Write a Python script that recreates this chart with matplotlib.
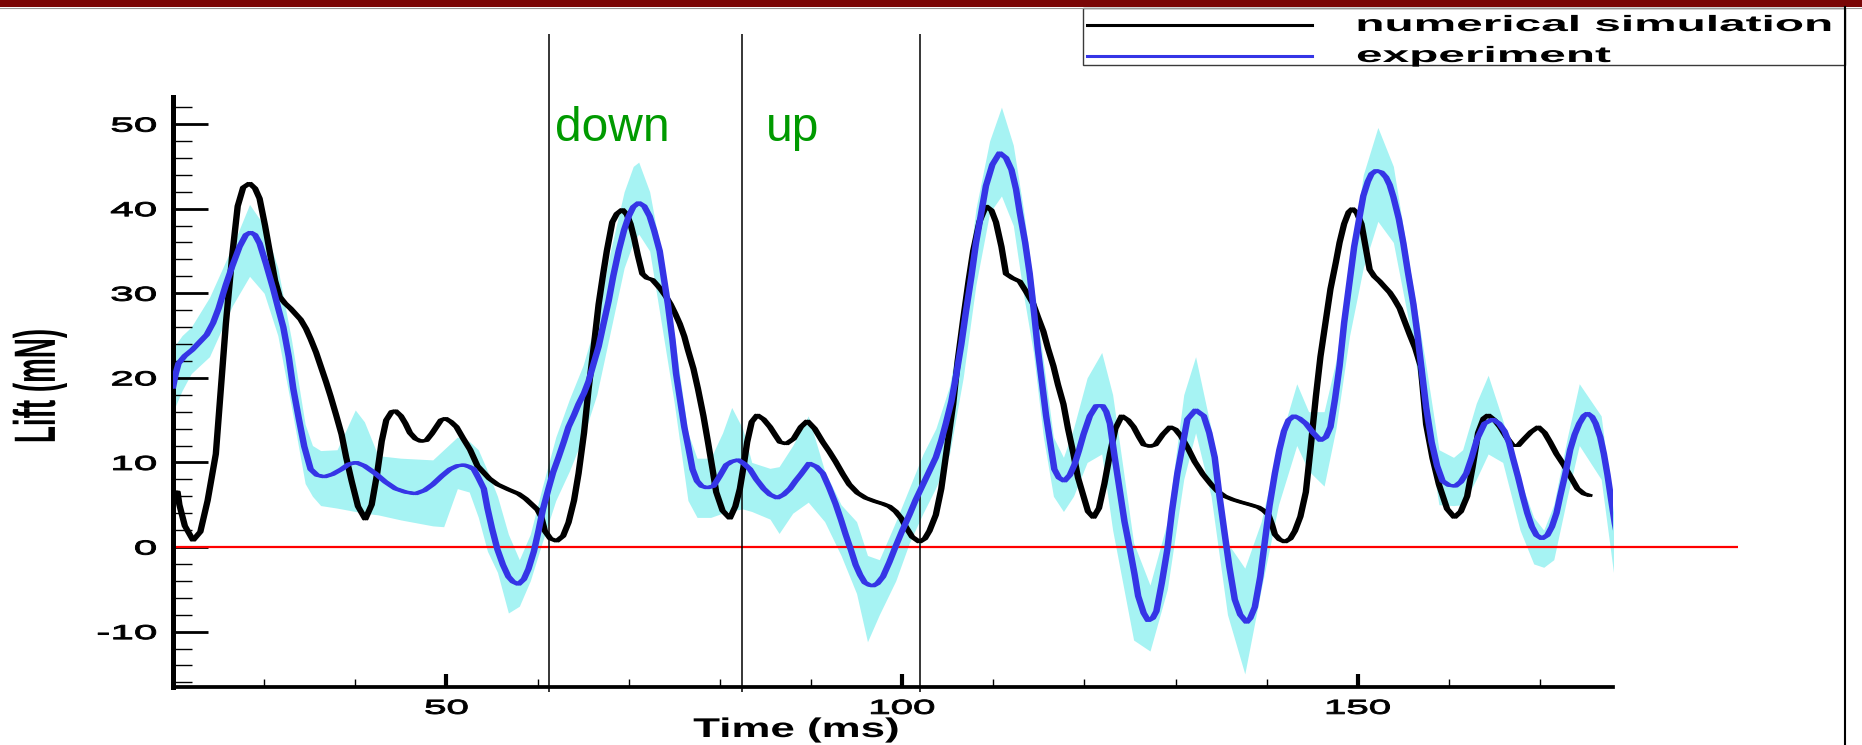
import matplotlib
matplotlib.use("Agg")
import matplotlib.pyplot as plt
from matplotlib.patheffects import AbstractPathEffect, SimpleLineShadow, Normal
from matplotlib.transforms import Affine2D
from matplotlib.lines import Line2D
from matplotlib.patches import Rectangle
from matplotlib.ticker import MultipleLocator

# ---------------------------------------------------------------- data
# numerical simulation: time (ms) and lift (mN)
sim_t = [20.0, 20.5, 20.7, 21.3, 22.2, 23.0, 23.8, 24.7, 25.8, 26.5, 27.1, 27.7, 28.4, 29.0,
         29.5, 30.1, 30.6, 31.2, 31.7, 32.3, 32.9, 33.5, 34.0, 34.6, 35.1, 35.7, 36.2, 36.8,
         37.3, 37.9, 38.5, 39.0, 39.6, 40.3, 41.1, 41.8, 42.4, 42.9, 43.4, 44.0, 44.4, 45.0,
         45.5, 46.0, 46.6, 47.2, 47.8, 48.4, 48.9, 49.4, 49.9, 50.5, 51.1, 51.8, 52.6, 53.4,
         54.7, 55.6, 56.8, 57.9, 58.7, 59.3, 60.0, 60.4, 60.8, 61.4, 62.1, 62.8, 63.4, 64.0,
         64.5, 65.1, 65.6, 66.2, 66.7, 67.2, 67.6, 68.2, 68.7, 69.3, 69.8, 70.2, 70.6, 71.0,
         71.5, 72.0, 72.6, 73.1, 73.5, 74.1, 74.6, 75.1, 75.6, 76.1, 76.5, 77.1, 77.6, 78.2,
         78.7, 79.2, 79.6, 80.3, 81.1, 81.7, 82.2, 82.6, 83.0, 83.5, 84.1, 84.8, 85.5, 86.1,
         86.6, 87.3, 88.1, 88.9, 89.6, 90.4, 91.3, 92.0, 92.7, 93.5, 94.2, 95.1, 96.0, 97.0,
         97.9, 98.6, 99.3, 99.9, 100.4, 101.1, 101.9, 102.5, 103.0, 103.7, 104.3, 104.9, 105.6,
         106.1, 106.7, 107.3, 107.8, 108.5, 109.2, 109.8, 110.3, 110.9, 111.4, 112.1, 112.9,
         113.6, 114.4, 114.9, 115.5, 116.0, 116.6, 117.1, 117.7, 118.2, 118.8, 119.3, 119.9,
         120.4, 121.0, 121.6, 122.2, 122.8, 123.4, 124.1, 124.8, 125.4, 126.0, 126.5, 127.2,
         127.8, 128.6, 129.4, 130.0, 130.6, 131.4, 132.1, 133.0, 133.9, 134.6, 135.4, 136.3,
         137.2, 138.2, 139.1, 139.7, 140.2, 140.6, 140.9, 141.4, 142.0, 142.6, 143.1, 143.7,
         144.3, 144.8, 145.4, 145.9, 146.5, 147.0, 147.6, 148.0, 148.5, 149.0, 149.4, 149.9,
         150.4, 150.8, 151.3, 151.8, 152.4, 152.9, 153.5, 154.0, 154.6, 155.1, 155.7, 156.3,
         156.9, 157.5, 158.2, 158.9, 159.8, 160.6, 161.3, 162.0, 162.6, 163.2, 163.8, 164.3,
         165.0, 165.6, 166.3, 167.0, 167.6, 168.1, 169.0, 169.8, 170.5, 171.1, 171.8, 172.6,
         173.4, 174.1, 174.8, 175.4]
sim_lift = [6.5, 6.5, 5.0, 2.5, 0.8, 1.8, 5.5, 11.0, 26.4, 34.5, 40.3, 42.5, 43.0, 42.4,
            41.2, 38.0, 35.0, 31.5, 29.6, 28.8, 28.2, 27.5, 26.9, 25.8, 24.6, 23.0, 21.4, 19.5,
            17.8, 15.6, 13.3, 10.6, 7.8, 4.8, 3.3, 5.0, 8.7, 12.5, 15.0, 16.0, 16.1, 15.5,
            14.6, 13.5, 12.8, 12.5, 12.6, 13.4, 14.2, 15.0, 15.2, 14.8, 14.2, 12.9, 11.5, 9.6,
            8.1, 7.4, 6.8, 6.3, 5.7, 5.1, 4.4, 3.6, 1.9, 1.0, 0.7, 1.3, 2.9, 5.5,
            8.7, 13.5, 18.7, 24.0, 28.7, 32.3, 35.0, 38.4, 39.4, 39.9, 39.3, 38.2, 36.5, 34.5,
            32.3, 31.8, 31.6, 31.0, 30.5, 29.6, 28.7, 27.6, 26.4, 24.9, 23.3, 21.1, 18.7, 15.5,
            12.4, 9.2, 6.5, 4.3, 3.4, 4.8, 6.9, 9.5, 12.4, 14.8, 15.6, 15.1, 14.2, 13.2,
            12.4, 12.2, 12.8, 14.2, 14.9, 14.0, 12.4, 11.3, 10.1, 8.6, 7.4, 6.4, 5.8, 5.4,
            5.1, 4.8, 4.2, 3.4, 2.4, 1.2, 0.6, 1.0, 1.9, 3.8, 6.9, 11.5, 16.9,
            22.0, 26.9, 31.5, 35.0, 38.5, 40.3, 39.8, 38.4, 35.5, 32.3, 31.8, 31.4,
            30.2, 28.7, 27.2, 25.5, 23.5, 21.4, 19.2, 16.9, 14.0, 11.0, 8.2, 6.0,
            4.2, 3.5, 4.6, 7.5, 11.0, 14.0, 15.5, 15.0, 14.2, 13.0, 12.1, 11.9,
            12.1, 13.3, 14.2, 13.9, 13.1, 11.6, 10.1, 8.6, 7.4, 6.6, 6.0, 5.6,
            5.3, 5.0, 4.7, 4.3, 3.8, 2.6, 1.5, 0.9, 0.6, 1.0, 1.9, 3.6,
            6.5, 11.5, 17.8, 22.5, 26.9, 30.5, 33.7, 36.0, 38.2, 39.6, 40.0, 39.5,
            38.2, 35.8, 32.8, 32.0, 31.4, 30.8, 30.1, 29.3, 28.2, 26.8, 25.1, 23.5,
            21.4, 14.5, 10.5, 7.4, 4.5, 3.5, 4.2, 6.0, 9.5, 13.5, 15.2, 15.6,
            15.0, 14.2, 13.0, 12.0, 12.0, 12.6, 13.6, 14.2, 13.5, 12.4, 11.0, 9.7,
            8.2, 6.9, 6.3, 6.1]

# experiment: mean lift (mN)
exp_t = [20.0, 20.3, 20.6, 21.3, 22.1, 22.9, 23.7, 24.4, 25.0, 25.8, 26.5, 27.3, 28.0, 28.5,
         29.0, 29.5, 30.2, 31.0, 31.6, 32.1, 32.7, 33.2, 33.8, 34.4, 35.1, 35.8, 36.6, 37.5,
         38.5, 39.3, 40.1, 41.0, 42.2, 43.3, 44.4, 45.5, 46.6, 47.6, 48.5, 49.5, 50.4, 51.2,
         51.9, 52.5, 53.0, 53.5, 54.1, 54.5, 55.0, 55.6, 56.2, 56.8, 57.3, 57.9, 58.5, 59.0,
         59.6, 60.1, 60.6, 61.2, 61.7, 62.3, 62.9, 63.4, 64.0, 64.5, 65.1, 65.6, 66.1, 66.7,
         67.2, 67.8, 68.3, 68.9, 69.5, 70.0, 70.5, 71.1, 71.7, 72.3, 72.8, 73.4, 73.9, 74.3,
         74.8, 75.2, 75.7, 76.1, 76.6, 77.0, 77.5, 78.0, 78.6, 79.3, 80.0, 80.7, 81.3, 82.0,
         82.6, 83.3, 84.0, 84.8, 85.5, 86.3, 87.0, 87.7, 88.3, 88.9, 89.8, 90.6, 91.3, 92.0,
         92.7, 93.3, 93.8, 94.4, 94.9, 95.4, 95.9, 96.4, 96.8, 97.3, 97.9, 98.6, 99.3, 100.0,
         100.8, 101.5, 102.3, 103.0, 103.7, 104.3, 104.8, 105.4, 105.9, 106.5, 107.0, 107.6,
         108.1, 108.7, 109.2, 109.9, 110.7, 111.4, 112.0, 112.5, 112.9, 113.5, 114.0, 114.5,
         114.9, 115.4, 115.8, 116.3, 116.7, 117.2, 117.8, 118.4, 118.9, 119.4, 119.9, 120.6,
         121.3, 122.0, 122.4, 122.8, 123.3, 123.9, 124.4, 125.0, 125.5, 125.9, 126.5, 127.0,
         127.5, 127.9, 128.5, 129.1, 129.6, 130.2, 130.8, 131.3, 132.2, 133.1, 133.7, 134.3,
         134.8, 135.4, 135.9, 136.5, 137.1, 137.8, 138.2, 138.7, 139.3, 139.8, 140.3, 140.9,
         141.4, 141.9, 142.4, 143.0, 143.6, 144.3, 145.1, 145.9, 146.5, 147.0, 147.5, 148.0,
         148.5, 149.1, 149.6, 150.2, 150.6, 151.1, 151.5, 152.0, 152.6, 153.1, 153.5, 153.9,
         154.5, 155.0, 155.5, 156.1, 156.5, 157.0, 157.5, 158.1, 158.7, 159.3, 160.0, 160.7,
         161.3, 161.9, 162.5, 163.1, 163.9, 164.8, 165.5, 166.1, 166.6, 167.0, 167.6, 168.1,
         168.6, 169.1, 169.6, 170.2, 170.8, 171.3, 171.8, 172.2, 172.8, 173.3, 173.8, 174.3,
         174.8, 175.2, 175.7, 176.1, 176.6, 177.0, 177.4, 177.8, 178.2, 178.7]
exp_lift = [18.9, 20.5, 21.7, 22.6, 23.3, 24.2, 25.1, 26.5, 28.2, 31.0, 33.2, 35.5, 36.9, 37.2,
            36.9, 35.9, 33.5, 30.5, 28.0, 26.0, 22.5, 18.7, 15.2, 11.9, 9.2, 8.5, 8.3, 8.6,
            9.2, 9.8, 10.0, 9.6, 8.7, 7.7, 6.9, 6.5, 6.3, 6.7, 7.4, 8.4, 9.2, 9.6,
            9.7, 9.5, 9.2, 8.2, 6.9, 4.6, 2.2, -0.3, -2.1, -3.5, -4.1, -4.4, -3.8, -2.6,
            -0.5, 1.9, 4.5, 6.9, 8.8, 10.6, 12.5, 14.2, 15.6, 16.9, 18.2, 19.6, 21.5, 23.7,
            26.2, 29.1, 32.0, 35.0, 37.5, 39.1, 40.2, 40.7, 40.3, 39.1, 37.4, 35.0, 31.5, 28.7,
            24.5, 20.5, 17.0, 14.2, 11.5, 9.2, 7.8, 7.2, 7.0, 7.2, 8.4, 9.7, 10.1, 10.3,
            9.9, 9.2, 8.0, 6.9, 6.2, 5.8, 6.2, 6.9, 7.8, 8.6, 9.9, 9.5, 8.7, 7.0,
            5.1, 3.2, 1.5, -0.4, -2.1, -3.3, -4.2, -4.5, -4.6, -4.3, -3.5, -1.8, 0.1, 1.9,
            3.8, 5.6, 7.4, 9.0, 10.6, 12.6, 14.6, 17.2, 20.1, 24.0, 27.8, 32.0,
            35.9, 39.6, 42.7, 45.2, 46.6, 46.0, 44.6, 42.3, 39.6, 36.0, 32.3, 27.5,
            23.3, 19.0, 15.5, 12.0, 9.2, 8.2, 7.8, 8.5, 9.7, 11.4, 13.3, 15.5,
            16.7, 16.7, 16.0, 14.6, 10.8, 6.5, 3.0, -0.3, -3.2, -5.8, -7.8, -8.7,
            -8.4, -7.6, -4.2, -0.3, 4.2, 8.7, 12.2, 15.1, 16.2, 15.5, 13.5, 10.6,
            6.2, 1.5, -2.3, -6.2, -8.0, -8.9, -8.4, -7.1, -3.5, 0.6, 4.8, 8.7,
            11.5, 13.7, 15.0, 15.5, 15.2, 14.6, 13.5, 12.6, 13.0, 14.2, 17.5, 21.4,
            26.5, 31.4, 35.5, 39.1, 41.5, 43.2, 44.1, 44.5, 44.3, 43.7, 42.8, 41.4,
            38.8, 35.9, 32.5, 28.7, 25.5, 21.0, 16.5, 12.4, 9.6, 7.8, 7.3, 7.2,
            7.7, 8.7, 10.6, 12.8, 14.6, 15.1, 14.6, 13.7, 12.3, 10.6, 8.2, 6.0,
            4.0, 2.4, 1.4, 1.0, 1.4, 2.4, 4.0, 6.0, 8.8, 11.5, 13.3, 14.6,
            15.5, 15.8, 15.4, 14.6, 13.0, 11.0, 8.5, 5.6, 2.8, 0.1]

# experiment: spread band (lower / upper bound, mN)
band_t = [20.0, 21.0, 22.0, 24.0, 26.5, 28.4, 30.0, 31.5, 33.0, 34.5, 35.3, 36.2, 38.0, 40.0,
          41.0, 42.5, 45.0, 48.5, 49.7, 51.2, 52.5, 53.5, 54.5, 55.6, 56.8, 58.0, 59.2, 60.5,
          62.0, 63.5, 65.0, 66.5, 68.0, 69.5, 70.5, 71.1, 72.3, 73.5, 75.0, 76.5, 77.5, 79.0,
          80.3, 81.3, 82.5, 83.5, 85.5, 86.5, 88.0, 89.7, 91.5, 93.3, 95.0, 96.2, 97.5, 99.3,
          100.8, 102.3, 103.7, 105.2, 106.7, 108.1, 109.6, 110.9, 112.2, 113.3, 114.4, 115.5,
          116.6, 117.7, 118.8, 120.3, 121.9, 123.1, 125.4, 127.2, 129.1, 130.9, 132.2, 133.9,
          135.7, 137.6, 139.4, 141.3, 143.3, 144.6, 146.3, 147.6, 149.1, 150.6, 152.2, 153.9,
          155.7, 157.4, 158.9, 160.5, 161.5, 163.0, 164.3, 165.9, 167.8, 169.3, 170.4, 171.5,
          173.0, 174.3, 176.7, 178.3]
band_lo = [16.0, 18.5, 20.5, 22.5, 28.5, 32.0, 30.0, 25.0, 16.5, 7.5, 6.0, 4.9, 4.6, 4.2,
           4.0, 3.8, 3.2, 2.5, 2.4, 6.9, 6.5, 3.5, -0.5, -3.0, -7.8, -7.0, -4.0, 0.5,
           5.5, 9.0, 13.0, 18.0, 25.5, 33.0, 36.0, 37.0, 35.0, 27.0, 17.0, 5.5, 3.5, 3.5,
           4.0, 4.3, 4.5, 4.2, 3.3, 1.6, 4.0, 5.3, 3.0, -1.0, -5.5, -11.2, -8.0, -4.0,
           0.5, 4.0, 7.0, 11.0, 20.0, 31.0, 39.5, 41.5, 38.0, 30.0, 23.0, 13.0,
           6.0, 4.2, 6.0, 10.0, 11.0, 2.0, -11.0, -12.3, -5.0, 8.0, 13.5, 6.0,
           -8.0, -15.0, -5.0, 5.0, 12.0, 9.0, 7.2, 14.0, 25.0, 33.0, 38.5, 36.0,
           26.0, 15.0, 5.0, 4.9, 5.0, 8.0, 11.0, 10.0, 2.0, -2.0, -2.4, -1.5,
           6.0, 12.0, 8.0, -5.0]
band_hi = [23.5, 25.0, 26.0, 29.5, 35.5, 40.5, 38.0, 33.0, 24.5, 14.5, 12.0, 11.4, 11.5, 16.2,
           14.8, 10.8, 10.5, 10.3, 11.5, 13.0, 12.5, 11.5, 9.0, 6.0, 1.5, -1.5, 1.5, 7.0,
           13.0, 17.5, 21.5, 27.0, 35.0, 42.0, 45.0, 45.5, 42.0, 35.0, 25.0, 13.5, 10.5, 10.5,
           13.5, 16.5, 14.0, 10.0, 9.3, 9.5, 12.0, 15.5, 9.0, 5.0, 3.0, -1.0, -1.5, 3.0,
           7.0, 11.0, 14.0, 19.0, 28.0, 40.0, 48.0, 52.0, 47.5, 40.0, 31.0, 22.0,
           13.0, 10.6, 14.0, 20.0, 23.0, 18.0, 0.5, -4.5, 3.0, 18.0, 22.5, 14.0,
           0.5, -2.5, 3.0, 12.0, 19.3, 16.0, 16.0, 22.0, 33.0, 44.0, 49.6, 45.0,
           33.0, 22.0, 11.5, 10.6, 11.5, 17.0, 20.3, 15.0, 8.0, 3.5, 2.0, 5.0,
           13.0, 19.3, 15.5, 2.0]

# stroke phase boundaries (ms) and their labels
phase_bounds = [61.3, 82.4, 102.0]
phase_names = ["down", "up"]

# axes ticks
time_major = [50, 100, 150]
time_major_lab = ["50", "100", "150"]
time_minor = [30, 40, 60, 70, 80, 90, 110, 120, 130, 140, 160, 170]
lift_major = [-10, 0, 10, 20, 30, 40, 50]
lift_major_lab = ["-10", "0", "10", "20", "30", "40", "50"]

series_names = ["numerical simulation", "experiment"]

# ---------------------------------------------------------------- styling helpers
class StretchText(AbstractPathEffect):
    """Render glyphs scaled by (sx, sy) in glyph space about a pivot on the ink box,
    optionally thickened by an outline of the fill colour."""

    def __init__(self, sx=1.0, sy=1.0, hpivot="left", vpivot="baseline", stroke=0.0):
        super().__init__()
        self.sx, self.sy = sx, sy
        self.hpivot, self.vpivot = hpivot, vpivot
        self.stroke = stroke

    def draw_path(self, renderer, gc, tpath, affine, rgbFace=None):
        ext = tpath.get_extents()
        px = {"left": ext.x0, "center": 0.5 * (ext.x0 + ext.x1), "right": ext.x1}[self.hpivot]
        py = 0.5 * (ext.y0 + ext.y1) if self.vpivot == "center" else 0.0
        pre = Affine2D().translate(-px, -py).scale(self.sx, self.sy).translate(px, py)
        gc0 = renderer.new_gc()
        gc0.copy_properties(gc)
        if self.stroke > 0 and rgbFace is not None:
            gc0.set_linewidth(self.stroke)
            gc0.set_foreground(rgbFace)
            gc0.set_joinstyle("round")
        renderer.draw_path(gc0, tpath, pre + affine, rgbFace)
        gc0.restore()


def smear(color, dx=1.3):
    # widen strokes horizontally only
    return [SimpleLineShadow(offset=(-dx, 0), shadow_color=color, alpha=1.0),
            SimpleLineShadow(offset=(dx, 0), shadow_color=color, alpha=1.0),
            Normal()]


plt.rcParams["font.family"] = ["Liberation Sans", "DejaVu Sans"]

W, H = 1862, 745
fig = plt.figure(figsize=(W / 100, H / 100), dpi=100, facecolor="white")

# plot frame in pixel terms: left 173, right 1613, top 97, bottom 687
ax = fig.add_axes([173 / W, (H - 687) / H, (1613 - 173) / W, (687 - 97) / H])
ax.set_xlim(20, 178)
ax.set_ylim(-16.55, 53.2)
ax.set_facecolor("none")

BLACK = "#000000"
BLUE = "#3535e6"
CYAN = "#a6f3f3"

ax.fill_between(band_t, band_lo, band_hi, color=CYAN, lw=0, zorder=1)
ax.hlines(0, 20, 191.7, colors="#ff0000", lw=1.6, zorder=2, clip_on=False)
ax.vlines(phase_bounds, -17.2, 60.6, colors="k", lw=1.1, zorder=2, clip_on=False)
ax.plot(sim_t, sim_lift, color=BLACK, lw=2.0, zorder=3, solid_joinstyle="round",
        path_effects=smear(BLACK))
ax.plot(exp_t, exp_lift, color=BLUE, lw=2.1, zorder=4, solid_joinstyle="round",
        path_effects=smear(BLUE))

for name, a in zip(phase_names, phase_bounds[:-1]):
    off = 0.6 if name == "down" else 2.7
    ax.text(a + off, 48.0, name, fontsize=34.5, color="#009a00",
            ha="left", va="baseline", zorder=5)

# spines and ticks
for s in ("top", "right"):
    ax.spines[s].set_visible(False)
ax.spines["left"].set_linewidth(3.6)
ax.spines["bottom"].set_linewidth(2.7)

ax.set_xticks(time_major)
ax.set_xticklabels(time_major_lab)
ax.set_xticks(time_minor, minor=True)
ax.set_yticks(lift_major)
ax.set_yticklabels(lift_major_lab)
ax.yaxis.set_minor_locator(MultipleLocator(2))

ax.tick_params(axis="y", which="major", direction="in", length=25, width=2.0,
               pad=12, labelsize=14.5)
ax.tick_params(axis="y", which="minor", direction="in", length=14, width=1.0)
ax.tick_params(axis="x", which="major", direction="in", length=9.5, width=3.0,
               pad=8.5, labelsize=14.5)
ax.tick_params(axis="x", which="minor", direction="in", length=6, width=1.0)

for lab in ax.get_xticklabels():
    lab.set_path_effects([StretchText(2.0, 1.0, "center", stroke=0.7)])
for lab in ax.get_yticklabels():
    lab.set_path_effects([StretchText(2.1, 1.0, "right", stroke=0.7)])

ax.set_xlabel("Time (ms)", fontsize=19.5, fontweight="bold")
ax.xaxis.label.set_va("baseline")
ax.xaxis.set_label_coords((796 - 173) / 1440, (687 - 737) / 590)
ax.xaxis.label.set_path_effects([StretchText(1.62, 1.0, "center")])

ax.set_ylabel("Lift (mN)", fontsize=20, fontweight="bold")
ax.yaxis.label.set_va("center")
ax.yaxis.set_label_coords((40 - 173) / 1440, (687 - 386) / 590)
ax.yaxis.label.set_path_effects([StretchText(1.0, 2.1, "center", "center")])

# ---------------------------------------------------------------- frame decorations
def fx(px):
    return px / W


def fy(py):
    return 1 - py / H


fig.patches.append(Rectangle((0, fy(7)), 1, 7 / H, transform=fig.transFigure,
                             facecolor="#7a0606", edgecolor="none", zorder=0))
fig.lines.append(Line2D([0, 1], [fy(7.5)] * 2, transform=fig.transFigure,
                        color="#9a9a9a", lw=0.8))
fig.lines.append(Line2D([fx(1845)] * 2, [0, fy(7)], transform=fig.transFigure,
                        color="k", lw=1.5))

# legend box
fig.patches.append(Rectangle((fx(1083), fy(65)), (1845 - 1083) / W, 57 / H,
                             transform=fig.transFigure, fill=False,
                             edgecolor="#3a3a3a", lw=1.0))
for row_y, name, col in zip((25, 56), series_names, (BLACK, BLUE)):
    fig.lines.append(Line2D([fx(1087), fx(1312)], [fy(row_y)] * 2,
                            transform=fig.transFigure, color=col, lw=2.2))
    fig.text(fx(1357), fy(row_y + 6), name, fontsize=16, fontweight="bold",
             ha="left", va="baseline",
             path_effects=[StretchText(2.15, 1.0, "left")])

fig.savefig("out.png", dpi=100, facecolor="white")
